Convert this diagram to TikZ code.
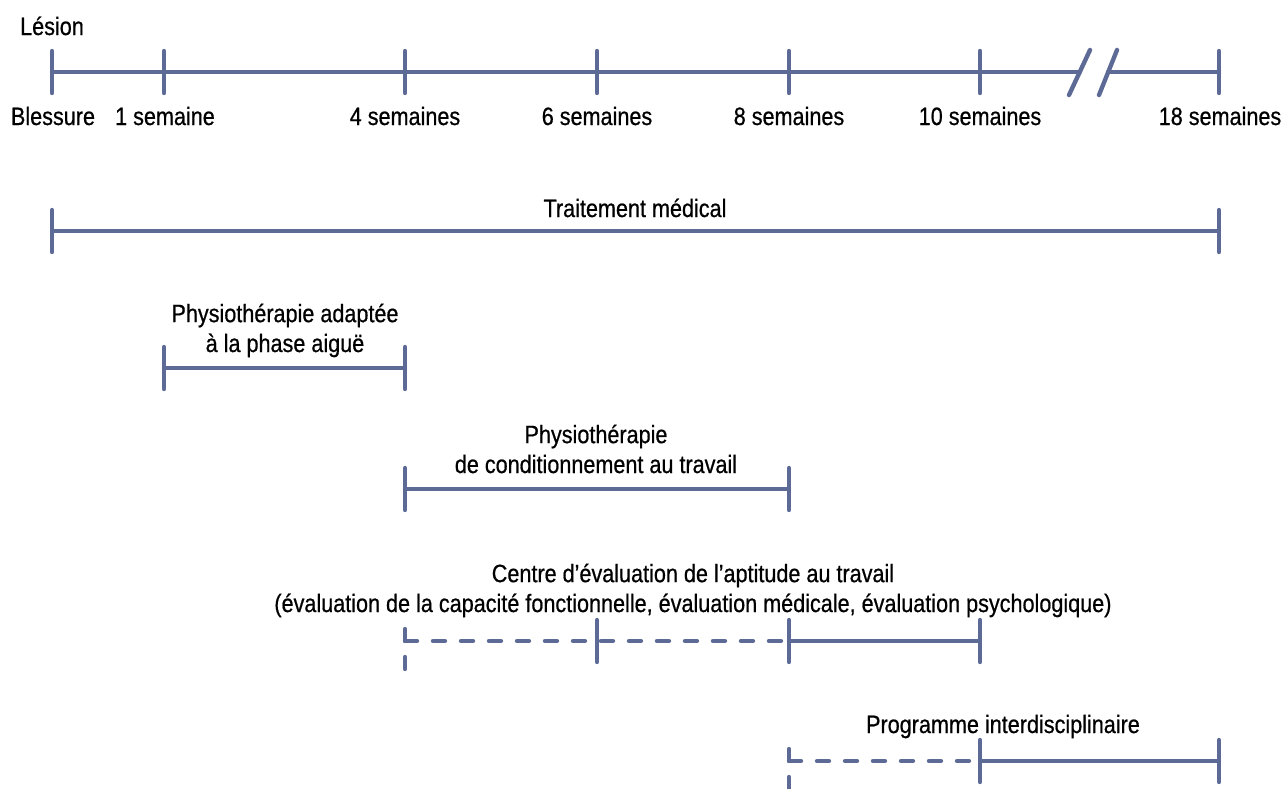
\documentclass[tikz,border=0pt]{standalone}
\usepackage{fontspec}
\setmainfont{Liberation Sans}[FakeStretch=0.86, FakeBold=0.6]
\usetikzlibrary{positioning}
\definecolor{barblue}{RGB}{94,106,150}

\begin{document}
\begin{tikzpicture}[x=0.02cm, y=-0.02cm,
    bar/.style={draw=barblue, line width=2.5pt, line cap=round},
    dashbar/.style={bar, dash pattern=on 0.24cm off 0.32cm},
    lbl/.style={font=\fontsize{14.3}{17}\selectfont, anchor=base,
      inner sep=0pt, align=center},
  ]
  \useasboundingbox (0,0) rectangle (1283,788);

  % Time axis
  \coordinate (t0)  at (52,72);
  \coordinate (t1)  at (164,72);
  \coordinate (t4)  at (405,72);
  \coordinate (t6)  at (597,72);
  \coordinate (t8)  at (789,72);
  \coordinate (t10) at (980,72);
  \coordinate (t18) at (1219,72);
  \coordinate (brk1) at (1080,72);
  \coordinate (brk2) at (1108,72);
  \node[lbl] (lesion) at (52,35) {Lésion};
  \node[lbl] (blessure) at (53,125) {Blessure};
  \node[lbl] (w1)  at (165,125) {1 semaine};
  \node[lbl] (w4)  at (405,125) {4 semaines};
  \node[lbl] (w6)  at (597,125) {6 semaines};
  \node[lbl] (w8)  at (789,125) {8 semaines};
  \node[lbl] (w10) at (980,125) {10 semaines};
  \node[lbl] (w18) at (1220,125) {18 semaines};
  \draw[bar] (t0) -- (brk1);
  \draw[bar] (brk2) -- (t18);
  \draw[bar] (brk1) ++(-11,23) -- ++(21,-45);
  \draw[bar] (brk2) ++(-9,23) -- ++(18,-45);
  \draw[bar] (t0)  ++(0,-21) -- ++(0,42);
  \draw[bar] (t1)  ++(0,-21) -- ++(0,42);
  \draw[bar] (t4)  ++(0,-21) -- ++(0,42);
  \draw[bar] (t6)  ++(0,-21) -- ++(0,42);
  \draw[bar] (t8)  ++(0,-21) -- ++(0,42);
  \draw[bar] (t10) ++(0,-21) -- ++(0,42);
  \draw[bar] (t18) ++(0,-21) -- ++(0,42);

  % Traitement medical
  \node[lbl] (traitement) at (635,217) {Traitement médical};
  \coordinate (tra) at (52,231);
  \coordinate (trb) at (1219,231);
  \draw[bar] (tra) -- (trb);
  \draw[bar] (tra) ++(0,-21) -- ++(0,42);
  \draw[bar] (trb) ++(0,-21) -- ++(0,42);

  % Physiotherapie phase aigue
  \node[lbl] (aigue) at (285,352)
    {Physiothérapie adaptée\\à la phase aiguë};
  \coordinate (aga) at (164,368);
  \coordinate (agb) at (405,368);
  \draw[bar] (aga) -- (agb);
  \draw[bar] (aga) ++(0,-21) -- ++(0,42);
  \draw[bar] (agb) ++(0,-21) -- ++(0,42);

  % Physiotherapie de conditionnement
  \node[lbl] (condition) at (596,473)
    {Physiothérapie\\de conditionnement au travail};
  \coordinate (cda) at (405,489);
  \coordinate (cdb) at (789,489);
  \draw[bar] (cda) -- (cdb);
  \draw[bar] (cda) ++(0,-21) -- ++(0,42);
  \draw[bar] (cdb) ++(0,-21) -- ++(0,42);

  % Centre d'evaluation
  \node[lbl] (centre) at (693,612)
    {Centre d’évaluation de l’aptitude au travail\\(évaluation de la capacité fonctionnelle, évaluation médicale, évaluation psychologique)};
  \coordinate (cea) at (405,641);
  \coordinate (ceb) at (597,641);
  \coordinate (cec) at (789,641);
  \coordinate (ced) at (980,641);
  \draw[dashbar] (cea) -- (cec);
  \draw[bar] (cec) -- (ced);
  \draw[dashbar] (cea) ++(0,-12) -- ++(0,40);
  \draw[bar] (ceb) ++(0,-21) -- ++(0,42);
  \draw[bar] (cec) ++(0,-21) -- ++(0,42);
  \draw[bar] (ced) ++(0,-21) -- ++(0,42);

  % Programme interdisciplinaire
  \node[lbl] (programme) at (1003,733) {Programme interdisciplinaire};
  \coordinate (pia) at (789,761);
  \coordinate (pib) at (980,761);
  \coordinate (pic) at (1219,761);
  \draw[dashbar] (pia) -- (pib);
  \draw[bar] (pib) -- (pic);
  \draw[dashbar] (pia) ++(0,-12) -- ++(0,40);
  \draw[bar] (pib) ++(0,-21) -- ++(0,42);
  \draw[bar] (pic) ++(0,-21) -- ++(0,42);
\end{tikzpicture}
\end{document}
